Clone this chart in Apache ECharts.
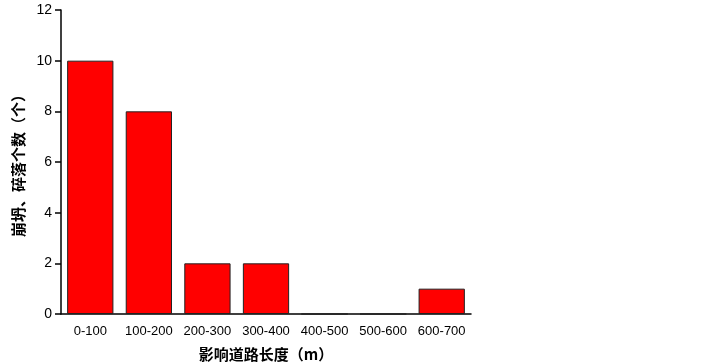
<!DOCTYPE html>
<html><head><meta charset="utf-8">
<script src="https://cdn.jsdelivr.net/npm/echarts@6/dist/echarts.min.js"></script>
<style>html,body{margin:0;padding:0;background:#fff}#c{width:722px;height:363px}</style>
</head><body><div id="c"></div>
<script>
var categories = ['0-100','100-200','200-300','300-400','400-500','500-600','600-700'];
var counts = [10, 8, 2, 2, 0, 0, 1];
var xName = '影响道路长度（m）';
var yName = '崩坍、碎落个数（个）';
var chart = echarts.init(document.getElementById('c'));
chart.setOption({
  animation: false,
  backgroundColor: '#fff',
  grid: {left: 61, right: 251, top: 10, bottom: 49, containLabel: false, outerBoundsMode: 'none'},
  xAxis: {
    type: 'category', data: categories,
    name: xName, nameLocation: 'middle', nameGap: 33,
    nameTextStyle: {fontFamily: 'Noto Sans CJK SC', fontWeight: 'bold', fontSize: 15, color: '#000'},
    axisLine: {lineStyle: {color: '#000', width: 1.5}},
    axisTick: {alignWithLabel: true, length: 6, lineStyle: {color: '#000', width: 1.5}},
    axisLabel: {interval: 0, fontFamily: 'Arial, Liberation Sans', fontSize: 13, color: '#000', margin: 11}
  },
  yAxis: {
    type: 'value', min: 0, max: 12, interval: 2,
    name: yName, nameLocation: 'middle', nameGap: 33, nameRotate: 90,
    nameTextStyle: {fontFamily: 'Noto Sans CJK SC', fontWeight: 'bold', fontSize: 15, color: '#000'},
    axisLine: {show: true, lineStyle: {color: '#000', width: 1.5}},
    axisTick: {show: true, length: 6, lineStyle: {color: '#000', width: 1.5}},
    splitLine: {show: false},
    axisLabel: {fontFamily: 'Arial, Liberation Sans', fontSize: 14, color: '#000', margin: 9}
  },
  series: [{
    type: 'bar', data: counts, barWidth: '79%',
    itemStyle: {color: '#ff0000', borderColor: '#222', borderWidth: 1}
  }]
});
</script></body></html>
